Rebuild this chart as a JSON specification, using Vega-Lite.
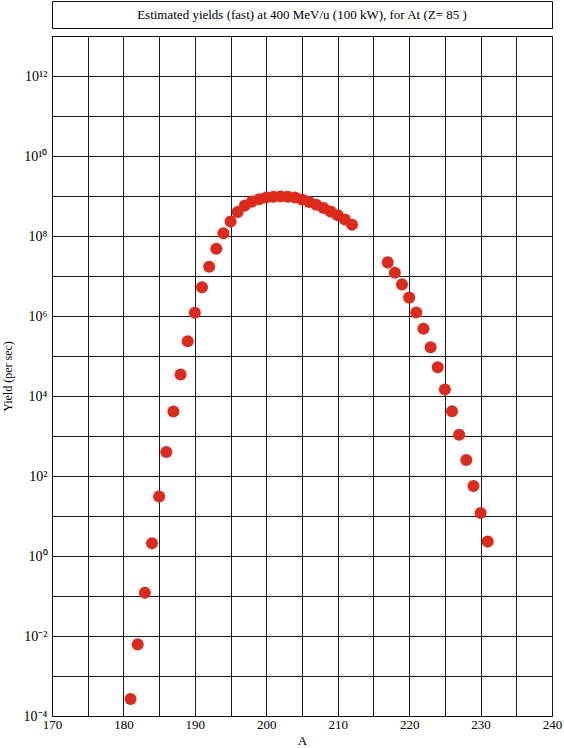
{
  "$schema": "https://vega.github.io/schema/vega-lite/v6.json",
  "background": "white",
  "padding": {"left": 0, "top": 0, "right": 4, "bottom": 1},
  "spacing": 8,
  "bounds": "flush",
  "config": {
    "font": "Liberation Serif",
    "view": {"stroke": "#111", "strokeWidth": 1},
    "axis": {
      "labelFont": "Liberation Serif",
      "titleFont": "Liberation Serif",
      "labelColor": "#000",
      "titleColor": "#000",
      "labelFontSize": 13,
      "titleFontSize": 13,
      "titleFontWeight": "normal",
      "gridColor": "#1a1a1a",
      "gridOpacity": 1,
      "gridWidth": 1,
      "domainColor": "#111",
      "ticks": false
    }
  },
  "datasets": {
    "yields": [
      {"A": 181, "Yield": 0.000266},
      {"A": 182, "Yield": 0.00617},
      {"A": 183, "Yield": 0.12},
      {"A": 184, "Yield": 2.09},
      {"A": 185, "Yield": 30.9},
      {"A": 186, "Yield": 398},
      {"A": 187, "Yield": 4074},
      {"A": 188, "Yield": 34670},
      {"A": 189, "Yield": 234400},
      {"A": 190, "Yield": 1200000},
      {"A": 191, "Yield": 5250000},
      {"A": 192, "Yield": 17000000},
      {"A": 193, "Yield": 47900000},
      {"A": 194, "Yield": 117000000},
      {"A": 195, "Yield": 229000000},
      {"A": 196, "Yield": 398000000},
      {"A": 197, "Yield": 575000000},
      {"A": 198, "Yield": 724000000},
      {"A": 199, "Yield": 832000000},
      {"A": 200, "Yield": 912000000},
      {"A": 201, "Yield": 955000000},
      {"A": 202, "Yield": 977000000},
      {"A": 203, "Yield": 955000000},
      {"A": 204, "Yield": 912000000},
      {"A": 205, "Yield": 813000000},
      {"A": 206, "Yield": 708000000},
      {"A": 207, "Yield": 603000000},
      {"A": 208, "Yield": 501000000},
      {"A": 209, "Yield": 407000000},
      {"A": 210, "Yield": 331000000},
      {"A": 211, "Yield": 257000000},
      {"A": 212, "Yield": 191000000},
      {"A": 217, "Yield": 21900000},
      {"A": 218, "Yield": 12000000},
      {"A": 219, "Yield": 6170000},
      {"A": 220, "Yield": 2880000},
      {"A": 221, "Yield": 1230000},
      {"A": 222, "Yield": 479000},
      {"A": 223, "Yield": 166000},
      {"A": 224, "Yield": 52480},
      {"A": 225, "Yield": 14450},
      {"A": 226, "Yield": 4169},
      {"A": 227, "Yield": 1072},
      {"A": 228, "Yield": 251},
      {"A": 229, "Yield": 56.2},
      {"A": 230, "Yield": 11.9},
      {"A": 231, "Yield": 2.29}
    ],
    "titleRow": [
      {"label": "Estimated yields (fast) at 400 MeV/u (100 kW), for At (Z= 85 )"}
    ]
  },
  "vconcat": [
    {
      "width": 500,
      "height": 27,
      "view": {"stroke": "#111", "strokeWidth": 1, "fill": "white"},
      "data": {"name": "titleRow"},
      "mark": {"type": "text", "font": "Liberation Serif", "fontSize": 13, "color": "#000", "align": "center", "baseline": "middle"},
      "encoding": {
        "x": {"field": "label", "type": "nominal", "axis": null},
        "y": {"field": "label", "type": "nominal", "axis": null},
        "text": {"field": "label"}
      }
    },
    {
      "width": 500,
      "height": 680,
      "data": {"name": "yields"},
      "mark": {"type": "circle", "size": 145, "color": "#dc2a1c", "opacity": 1},
      "encoding": {
        "x": {
          "field": "A",
          "type": "quantitative",
          "scale": {"domain": [170, 240], "nice": false, "zero": false},
          "axis": {
            "values": [170, 175, 180, 185, 190, 195, 200, 205, 210, 215, 220, 225, 230, 235, 240],
            "labelExpr": "datum.value % 10 == 0 ? datum.label : ''",
            "labelPadding": 2,
            "titlePadding": 3,
            "title": "A",
            "labelFlush": false,
            "labelOverlap": false
          }
        },
        "y": {
          "field": "Yield",
          "type": "quantitative",
          "scale": {"type": "log", "domain": [0.0001, 10000000000000], "nice": false},
          "axis": {
            "values": [0.0001, 0.001, 0.01, 0.1, 1, 10, 100, 1000, 10000, 100000, 1000000, 10000000, 100000000, 1000000000, 10000000000, 100000000000, 1000000000000],
            "labelExpr": "round(log(datum.value)/LN10) % 2 != 0 ? '' : '10' + replace(replace(replace(replace(replace(replace(replace(toString(round(log(datum.value)/LN10)), '-', '⁻'), '0', '⁰'), '1', '¹'), '2', '²'), '4', '⁴'), '6', '⁶'), '8', '⁸')",
            "labelPadding": 5,
            "labelFontSize": 14,
            "titlePadding": 9,
            "title": "Yield (per sec)",
            "titleFontSize": 12,
            "labelOverlap": false,
            "labelFlush": false
          }
        }
      }
    }
  ]
}
